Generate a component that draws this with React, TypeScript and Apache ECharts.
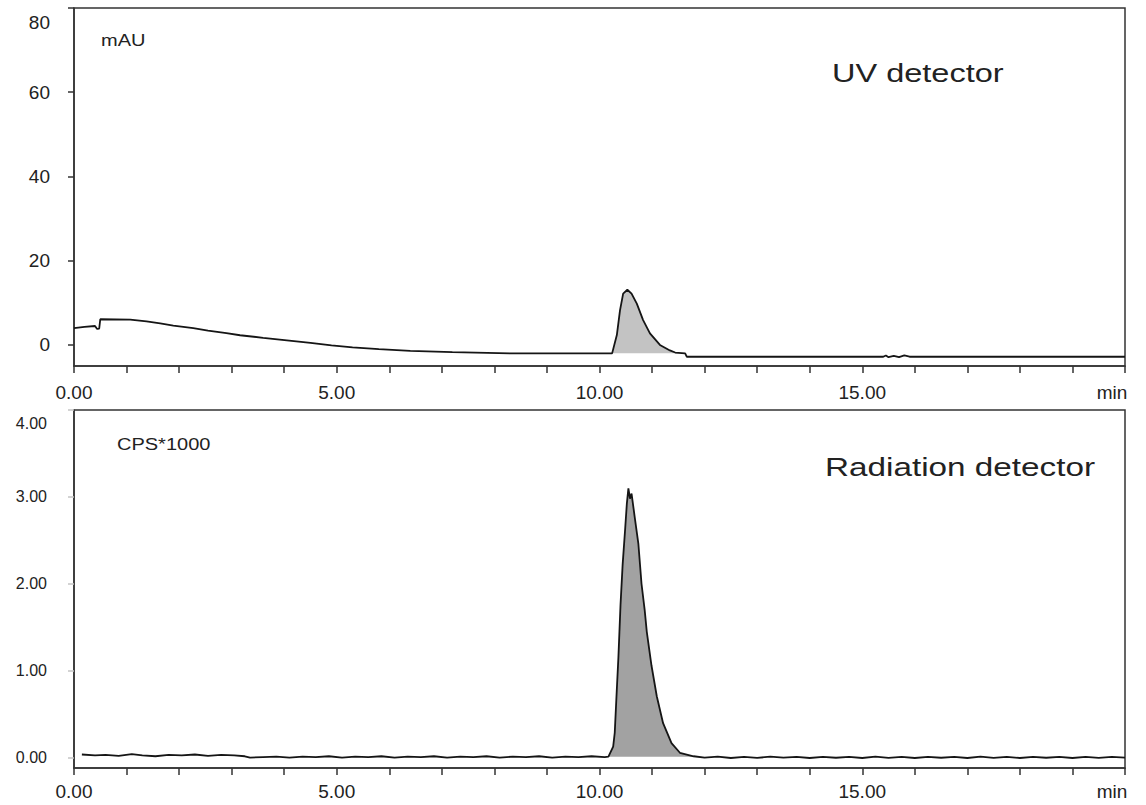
import React, { useEffect, useRef } from "react";
import * as echarts from "echarts";

const FONT = '"Liberation Sans", Arial, Helvetica, sans-serif';
const TEXT = "#222";
const AXIS = "#333";

// x axis (minutes)
const xMin = 0;
const xMax = 20;
const xLabelEvery = 5;

// UV detector (mAU)
const uvYMin = -5;
const uvYMax = 80;
const uvYTicks = [0, 20, 40, 60, 80];
const uvTrace: [number, number][] = [
  [0, 4.0], [0.2, 4.3], [0.4, 4.5], [0.44, 3.8], [0.48, 3.9], [0.5, 6.1],
  [1.07, 6.0], [1.38, 5.6], [1.64, 5.1], [1.89, 4.6], [2.27, 4.0], [2.55, 3.4],
  [2.9, 2.8], [3.16, 2.3], [3.6, 1.7], [4.05, 1.1], [4.5, 0.5], [4.9, -0.1],
  [5.3, -0.6], [5.8, -1.0], [6.4, -1.4], [7.2, -1.7], [8.3, -2.0], [10.24, -2.0],
  [10.33, 2.35], [10.39, 8.2], [10.45, 12.2], [10.53, 13.1], [10.61, 12.2],
  [10.71, 9.8], [10.83, 5.9], [10.96, 2.75], [11.15, 0.0], [11.34, -1.3],
  [11.44, -1.8], [11.63, -2.0], [11.66, -2.8], [15.4, -2.8], [15.45, -2.5],
  [15.5, -2.9], [15.6, -2.6], [15.7, -2.9], [15.8, -2.5], [15.9, -2.8], [20, -2.8],
];
const uvPeak: [number, number][] = [
  [10.24, -2.0], [10.33, 2.35], [10.39, 8.2], [10.45, 12.2], [10.53, 13.1],
  [10.61, 12.2], [10.71, 9.8], [10.83, 5.9], [10.96, 2.75], [11.15, 0.0],
  [11.34, -1.3], [11.44, -1.8], [11.63, -2.0],
];
const uvPeakBase = -2.0;

// Radiation detector (CPS*1000)
const radYMin = -0.115;
const radYMax = 4;
const radYTicks = [0, 1, 2, 3, 4];
const radTrace: [number, number][] = [
  [0.15, 0.04], [0.4, 0.03], [0.6, 0.035], [0.85, 0.025], [1.1, 0.045], [1.3, 0.03],
  [1.55, 0.02], [1.8, 0.035], [2.05, 0.03], [2.3, 0.04], [2.55, 0.025], [2.8, 0.035],
  [3.05, 0.03], [3.25, 0.02], [3.35, 0.005], [3.6, 0.01], [3.85, 0.015], [4.1, 0.005],
  [4.35, 0.015], [4.6, 0.01], [4.85, 0.02], [5.1, 0.005], [5.35, 0.015], [5.6, 0.01],
  [5.85, 0.02], [6.1, 0.005], [6.35, 0.015], [6.6, 0.01], [6.85, 0.02], [7.1, 0.005],
  [7.35, 0.015], [7.6, 0.01], [7.85, 0.02], [8.1, 0.005], [8.35, 0.015], [8.6, 0.01],
  [8.85, 0.02], [9.1, 0.005], [9.35, 0.015], [9.6, 0.01], [9.85, 0.02], [10.1, 0.01],
  [10.17, 0.015], [10.26, 0.13], [10.29, 0.29], [10.32, 0.67], [10.36, 1.16],
  [10.4, 1.76], [10.44, 2.22], [10.49, 2.65], [10.52, 2.92], [10.55, 3.1],
  [10.58, 2.98], [10.61, 3.04], [10.67, 2.77], [10.74, 2.46], [10.8, 2.0],
  [10.86, 1.7], [10.9, 1.45], [10.99, 1.06], [11.09, 0.71], [11.21, 0.4],
  [11.37, 0.17], [11.53, 0.06], [11.79, 0.02], [12.0, 0.005], [12.25, 0.015],
  [12.5, 0.0], [12.75, 0.012], [13.0, 0.002], [13.25, 0.015], [13.5, 0.004],
  [13.75, 0.012], [14.0, 0.0], [14.25, 0.014], [14.5, 0.003], [14.75, 0.012],
  [15.0, 0.0], [15.25, 0.015], [15.5, 0.002], [15.75, 0.012], [16.0, 0.0],
  [16.25, 0.014], [16.5, 0.003], [16.75, 0.012], [17.0, 0.0], [17.25, 0.015],
  [17.5, 0.002], [17.75, 0.012], [18.0, 0.0], [18.25, 0.014], [18.5, 0.003],
  [18.75, 0.012], [19.0, 0.0], [19.25, 0.014], [19.5, 0.002], [19.75, 0.012], [20, 0.005],
];
const radPeak: [number, number][] = [
  [10.17, 0.015], [10.26, 0.13], [10.29, 0.29], [10.32, 0.67], [10.36, 1.16],
  [10.4, 1.76], [10.44, 2.22], [10.49, 2.65], [10.52, 2.92], [10.55, 3.1],
  [10.58, 2.98], [10.61, 3.04], [10.67, 2.77], [10.74, 2.46], [10.8, 2.0],
  [10.86, 1.7], [10.9, 1.45], [10.99, 1.06], [11.09, 0.71], [11.21, 0.4],
  [11.37, 0.17], [11.53, 0.06], [11.79, 0.02],
];
const radPeakBase = 0.015;

const texts = {
  uvUnit: "mAU",
  uvTitle: "UV detector",
  radUnit: "CPS*1000",
  radTitle: "Radiation detector",
  xUnit: "min",
};

function xAxisFor(gridIndex: number, margin: number) {
  return {
    type: "value",
    gridIndex,
    min: xMin,
    max: xMax,
    interval: 1,
    axisLine: { show: true, onZero: false, lineStyle: { color: AXIS, width: 1.5 } },
    axisTick: { show: true, inside: false, length: 7, lineStyle: { color: AXIS, width: 1.5 } },
    splitLine: { show: false },
    axisLabel: {
      show: true,
      margin,
      color: TEXT,
      fontSize: 19,
      fontFamily: FONT,
      formatter: (v: number) =>
        v === xMax ? "{m|" + texts.xUnit + "}" : v % xLabelEvery === 0 ? v.toFixed(2) : "",
      rich: { m: { fontSize: 19, fontFamily: FONT, color: TEXT, padding: [0, 26, 0, 0] } },
    },
  };
}

// filled peak area between the trace and its baseline, drawn through the axes' scales
function peakFill(peak: [number, number][], base: number, axisIndex: number, color: string) {
  return {
    type: "custom",
    xAxisIndex: axisIndex,
    yAxisIndex: axisIndex,
    data: [[peak[0][0], base]],
    silent: true,
    z: 1,
    renderItem: (_params: any, api: any) => {
      const pts = peak.map((p) => api.coord(p));
      const last = peak[peak.length - 1];
      pts.push(api.coord([last[0], base]));
      pts.push(api.coord([peak[0][0], base]));
      return { type: "polygon", shape: { points: pts }, style: { fill: color, stroke: "none" } };
    },
  };
}

export default function App() {
  const ref = useRef<HTMLDivElement>(null);
  useEffect(() => {
    if (!ref.current) return;
    const chart = echarts.init(ref.current, undefined, { renderer: "svg" });
    const option: any = {
      animation: false,
      backgroundColor: "#fff",
      grid: [
        { left: 74, top: 8, right: 21, height: 358, show: true, borderColor: AXIS, borderWidth: 1.5, backgroundColor: "transparent" },
        { left: 74, top: 410, right: 21, height: 358, show: true, borderColor: AXIS, borderWidth: 1.5, backgroundColor: "transparent" },
      ],
      xAxis: [xAxisFor(0, 17), xAxisFor(1, 14)],
      yAxis: [
        {
          type: "value",
          gridIndex: 0,
          min: uvYMin,
          max: uvYMax,
          axisLine: { show: true, onZero: false, lineStyle: { color: AXIS, width: 1.5 } },
          axisTick: { show: true, length: 6, customValues: uvYTicks, lineStyle: { color: AXIS, width: 1.5 } },
          splitLine: { show: false },
          axisLabel: {
            customValues: uvYTicks,
            margin: 24,
            color: TEXT,
            fontSize: 19,
            fontFamily: FONT,
            formatter: (v: number) => (v === uvYMax ? "{s|" + v + "}" : String(v)),
            rich: { s: { fontSize: 19, fontFamily: FONT, color: TEXT, padding: [28, 0, 0, 0] } },
          },
        },
        {
          type: "value",
          gridIndex: 1,
          min: radYMin,
          max: radYMax,
          axisLine: { show: true, onZero: false, lineStyle: { color: AXIS, width: 1.5 } },
          axisTick: { show: true, length: 6, customValues: radYTicks, lineStyle: { color: "#c4c4c4", width: 1.5 } },
          splitLine: { show: false },
          axisLabel: {
            customValues: radYTicks,
            margin: 27,
            color: TEXT,
            fontSize: 16,
            fontFamily: FONT,
            formatter: (v: number) => (v === radYMax ? "{s|" + v.toFixed(2) + "}" : v.toFixed(2)),
            rich: { s: { fontSize: 16, fontFamily: FONT, color: TEXT, padding: [26, 0, 0, 0] } },
          },
        },
      ],
      series: [
        peakFill(uvPeak, uvPeakBase, 0, "#c3c3c3"),
        {
          type: "line",
          name: "UV",
          xAxisIndex: 0,
          yAxisIndex: 0,
          data: uvTrace,
          showSymbol: false,
          lineStyle: { color: "#151515", width: 1.8 },
          z: 3,
        },
        peakFill(radPeak, radPeakBase, 1, "#a2a2a2"),
        {
          type: "line",
          name: "Radiation",
          xAxisIndex: 1,
          yAxisIndex: 1,
          data: radTrace,
          showSymbol: false,
          lineStyle: { color: "#151515", width: 1.8 },
          z: 3,
        },
      ],
      graphic: [
        { type: "text", x: 101, y: 41, scaleX: 1.25, style: { text: texts.uvUnit, fontSize: 16, fontFamily: FONT, fill: TEXT, textAlign: "left", textVerticalAlign: "middle" } },
        { type: "text", x: 832, y: 73, scaleX: 1.25, style: { text: texts.uvTitle, fontSize: 26, fontFamily: FONT, fill: TEXT, textAlign: "left", textVerticalAlign: "middle" } },
        { type: "text", x: 117, y: 445, scaleX: 1.25, style: { text: texts.radUnit, fontSize: 16, fontFamily: FONT, fill: TEXT, textAlign: "left", textVerticalAlign: "middle" } },
        { type: "text", x: 825, y: 467, scaleX: 1.28, style: { text: texts.radTitle, fontSize: 26, fontFamily: FONT, fill: TEXT, textAlign: "left", textVerticalAlign: "middle" } },
      ],
    };
    chart.setOption(option);
    return () => chart.dispose();
  }, []);
  return (
    <div
      ref={ref}
      style={{ position: "fixed", left: 0, top: 0, width: 1146, height: 805, background: "#fff" }}
    />
  );
}
